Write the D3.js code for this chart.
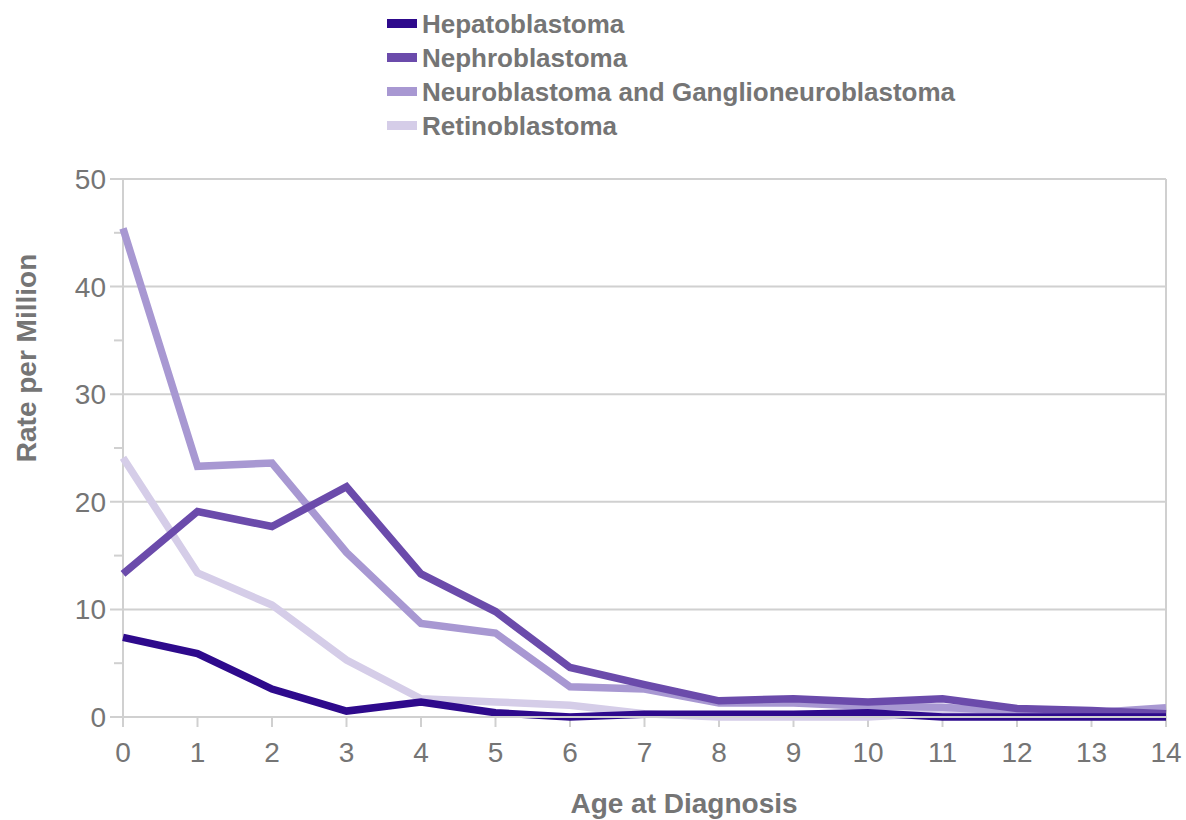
<!DOCTYPE html>
<html>
<head>
<meta charset="utf-8">
<script src="https://cdn.jsdelivr.net/npm/d3@7"></script>
<style>
  html, body { margin: 0; padding: 0; background: #fff; }
  svg { display: block; font-family: "Liberation Sans", Arial, sans-serif; }
</style>
</head>
<body>
<svg id="chart" width="1186" height="820"></svg>
<script>
const ages = [0,1,2,3,4,5,6,7,8,9,10,11,12,13,14];
const seriesNames = ["Hepatoblastoma","Nephroblastoma","Neuroblastoma and Ganglioneuroblastoma","Retinoblastoma"];
const hepatoblastoma = [7.4, 5.9, 2.6, 0.55, 1.4, 0.4, 0, 0.25, 0.25, 0.25, 0.4, 0, 0, 0, 0];
const nephroblastoma = [13.3, 19.1, 17.7, 21.4, 13.3, 9.8, 4.6, 3.0, 1.5, 1.7, 1.4, 1.7, 0.8, 0.6, 0.3];
const neuroblastoma = [45.4, 23.3, 23.6, 15.3, 8.7, 7.8, 2.8, 2.6, 1.3, 1.3, 1.0, 0.9, 0.5, 0.4, 0.85];
const retinoblastoma = [24.1, 13.4, 10.4, 5.3, 1.7, 1.4, 1.1, 0.3, 0, 0, 0, 0.4, 0.3, 0.3, 0.3];
const yTicks = [0,10,20,30,40,50];
const yMinorTicks = [5,15,25,35,45];
const colors = ["#2E0A8C","#6B4BAB","#A898D2","#D5CDE8"];

const seriesValues = [hepatoblastoma, nephroblastoma, neuroblastoma, retinoblastoma];
const svg = d3.select("#chart");
const pLeft = 123, pRight = 1166, pTop = 179, pBottom = 717;
const x = d3.scaleLinear().domain([0,14]).range([pLeft,pRight]);
const y = d3.scaleLinear().domain([0,50]).range([pBottom,pTop]);
const gridColor = "#d0d0d0";
const textColor = "#757575";

// gridlines
const gGrid = svg.append("g");
gGrid.selectAll("line.grid").data(yTicks.filter(d => d > 0)).join("line")
  .attr("x1", pLeft - 13).attr("x2", pRight)
  .attr("y1", d => y(d)).attr("y2", d => y(d))
  .attr("stroke", gridColor).attr("stroke-width", 2);
gGrid.selectAll("line.minor").data(yMinorTicks).join("line")
  .attr("x1", pLeft - 9).attr("x2", pLeft)
  .attr("y1", d => y(d)).attr("y2", d => y(d))
  .attr("stroke", gridColor).attr("stroke-width", 2);
// y axis line
gGrid.append("line").attr("x1", pLeft).attr("x2", pLeft).attr("y1", pTop).attr("y2", pBottom + 10)
  .attr("stroke", gridColor).attr("stroke-width", 2);
// right border
gGrid.append("line").attr("x1", pRight).attr("x2", pRight).attr("y1", pTop).attr("y2", pBottom + 10)
  .attr("stroke", gridColor).attr("stroke-width", 2);
// x ticks
gGrid.selectAll("line.xt").data(ages).join("line")
  .attr("x1", d => x(d)).attr("x2", d => x(d))
  .attr("y1", pBottom).attr("y2", pBottom + 10)
  .attr("stroke", gridColor).attr("stroke-width", 2);

// series
const line = d3.line().x((d,i) => x(ages[i])).y(d => y(d));
const order = [3,2,1,0];
svg.append("g").selectAll("path").data(order).join("path")
  .attr("d", i => line(seriesValues[i]))
  .attr("fill", "none")
  .attr("stroke", i => colors[i])
  .attr("stroke-width", 7.5)
  .attr("stroke-linejoin", "miter")
  .attr("stroke-linecap", "butt");

// baseline on top
svg.append("line").attr("x1", pLeft - 13).attr("x2", pRight).attr("y1", y(0)).attr("y2", y(0))
  .attr("stroke", gridColor).attr("stroke-width", 2);

// tick labels
svg.append("g").selectAll("text").data(yTicks).join("text")
  .attr("x", 106).attr("y", d => y(d)).attr("dy", "0.36em")
  .attr("text-anchor", "end").attr("font-size", 28).attr("fill", textColor)
  .text(d => d);
svg.append("g").selectAll("text").data(ages).join("text")
  .attr("x", d => x(d)).attr("y", 762)
  .attr("text-anchor", "middle").attr("font-size", 28).attr("fill", textColor)
  .text(d => d);

// axis titles
svg.append("text").attr("x", 684).attr("y", 813)
  .attr("text-anchor", "middle").attr("font-size", 28).attr("font-weight", "bold").attr("fill", textColor)
  .text("Age at Diagnosis");
svg.append("text").attr("transform", "translate(36, 358) rotate(-90)")
  .attr("text-anchor", "middle").attr("font-size", 28).attr("font-weight", "bold").attr("fill", textColor)
  .text("Rate per Million");

// legend
const lg = svg.append("g");
seriesNames.forEach((name, i) => {
  const cy = 24 + i * 34;
  lg.append("rect").attr("x", 387).attr("y", cy - 5).attr("width", 30).attr("height", 9).attr("fill", colors[i]);
  lg.append("text").attr("x", 422).attr("y", cy).attr("dy", "0.36em")
    .attr("font-size", 26).attr("font-weight", "bold").attr("fill", textColor)
    .text(name);
});
</script>
</body>
</html>
